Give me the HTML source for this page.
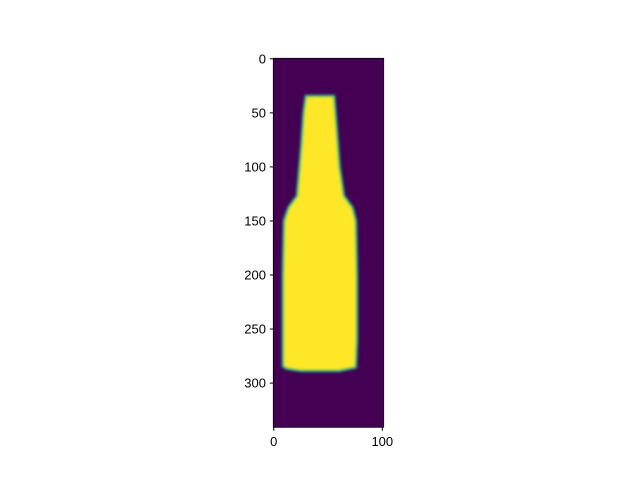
<!DOCTYPE html>
<html><head><meta charset="utf-8"><style>
body{margin:0;background:#fff;}
svg text{font-family:"Liberation Sans","DejaVu Sans",sans-serif;font-size:13px;fill:#000;}
</style></head><body>
<svg width="640" height="480" xmlns="http://www.w3.org/2000/svg">
<defs>
<clipPath id="ax"><rect x="273.3" y="58.3" width="110.4" height="369"/></clipPath>
<filter id="bl" x="-20%" y="-20%" width="140%" height="140%"><feGaussianBlur stdDeviation="1.3"/></filter>
</defs>
<rect x="273.3" y="58.3" width="110.4" height="369" fill="#440154"/>
<g clip-path="url(#ax)" id="marks"></g>
<rect x="273.3" y="58.3" width="110.4" height="369" fill="none" stroke="#000" stroke-width="0.8"/>
<g id="ticks"></g>
</svg>
<script>
const xTicks=[0,100];
const yTicks=[0,50,100,150,200,250,300];
const outlineX=[30,55,57,60,64,72,75,76,76,75,60,40,25,12,9,9,10,14,22,26,28];
const outlineY=[35,35,60,100,127,138,150,200,260,285,288,288,288,286,284,200,150,138,127,80,50];
const sx=v=>273.8+v*1.085;
const sy=v=>58.8+v*1.081;
const NS="http://www.w3.org/2000/svg";
const marks=document.getElementById('marks');
const pts=outlineX.map((x,i)=>sx(x)+','+sy(outlineY[i])).join(' ');
const glow=document.createElementNS(NS,'polygon');
glow.setAttribute('points',pts);glow.setAttribute('fill','#21918c');glow.setAttribute('stroke','#21918c');glow.setAttribute('stroke-width','4');glow.setAttribute('filter','url(#bl)');


marks.appendChild(glow);
const p=document.createElementNS(NS,'polygon');
p.setAttribute('points',pts);p.setAttribute('fill','#fde725');p.setAttribute('stroke','#7ad151');p.setAttribute('stroke-width','1');p.setAttribute('filter','url(#bl)');


marks.appendChild(p);
const t=document.getElementById('ticks');
xTicks.forEach(v=>{
 const l=document.createElementNS(NS,'line');l.setAttribute('x1',sx(v));l.setAttribute('x2',sx(v));l.setAttribute('y1',427.3);l.setAttribute('y2',430.8);l.setAttribute('stroke','#000');
 
 
 t.appendChild(l);
 const s=document.createElementNS(NS,'text');s.setAttribute('x',sx(v));s.setAttribute('y',446);s.setAttribute('text-anchor','middle');s.textContent=v;
 
 
 t.appendChild(s);
});
yTicks.forEach(v=>{
 const l=document.createElementNS(NS,'line');l.setAttribute('x1',269.8);l.setAttribute('x2',273.3);l.setAttribute('y1',sy(v));l.setAttribute('y2',sy(v));l.setAttribute('stroke','#000');
 
 
 t.appendChild(l);
 const s=document.createElementNS(NS,'text');s.setAttribute('x',266);s.setAttribute('y',sy(v)+4.5);s.setAttribute('text-anchor','end');s.textContent=v;
 
 
 t.appendChild(s);
});
</script>
</body></html>
